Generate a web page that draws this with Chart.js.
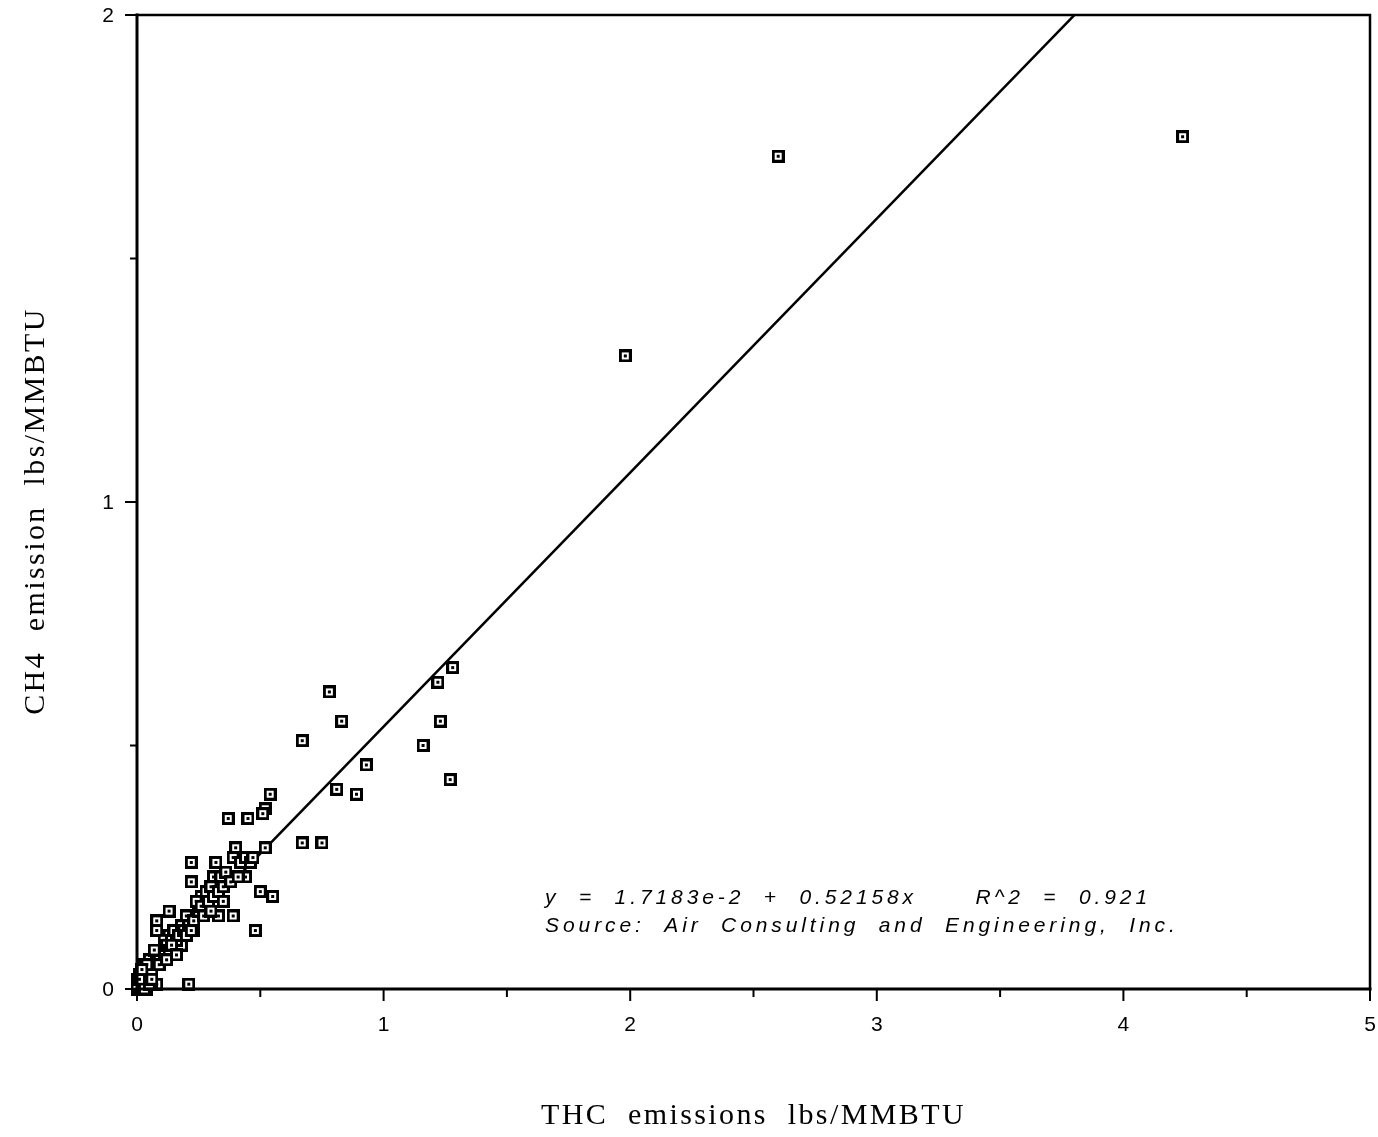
<!DOCTYPE html>
<html>
<head>
<meta charset="utf-8">
<script src="https://cdn.jsdelivr.net/npm/chart.js@4.4.1/dist/chart.umd.min.js"></script>
<style>
  html, body { margin: 0; padding: 0; background: #fff; }
  #wrap { width: 1378px; height: 1137px; }
</style>
</head>
<body>
<div id="wrap"><canvas id="scatter"></canvas></div>
<script>
// THC (x) vs CH4 (y) emissions, lbs/MMBTU
let thcValues = [
  4.24, 2.60, 1.98, 1.28, 1.22, 1.23, 1.16, 1.27,
  0.78, 0.83, 0.67, 0.93, 0.81, 0.89, 0.54, 0.52, 0.51, 0.45, 0.37,
  0.52, 0.67, 0.75, 0.22, 0.22, 0.32, 0.40, 0.39, 0.44, 0.50, 0.55,
  0.48, 0.27, 0.33, 0.39, 0.13, 0.08, 0.08, 0.23, 0.18, 0.08, 0.21,
  0.31, 0.26, 0.24, 0.13,
  0.00, 0.01, 0.02, 0.02, 0.03, 0.03, 0.04, 0.05, 0.05, 0.06, 0.07,
  0.08, 0.09, 0.10, 0.11, 0.11, 0.12, 0.13, 0.14, 0.15, 0.16, 0.17,
  0.18, 0.19, 0.20, 0.21, 0.23, 0.24, 0.25, 0.26, 0.28, 0.29, 0.30,
  0.31, 0.33, 0.34, 0.35, 0.36, 0.38, 0.42, 0.44, 0.46, 0.47, 0.04,
  0.06, 0.01, 0.03, 0.00, 0.01, 0.02, 0.00, 0.04, 0.07, 0.09, 0.12,
  0.14, 0.16, 0.20, 0.22, 0.27, 0.30, 0.35, 0.41, 0.01, 0.03, 0.05,
  0.02, 0.06
];
let ch4Values = [
  1.75, 1.71, 1.30, 0.66, 0.63, 0.55, 0.50, 0.43,
  0.61, 0.55, 0.51, 0.46, 0.41, 0.40, 0.40, 0.37, 0.36, 0.35, 0.35,
  0.29, 0.30, 0.30, 0.26, 0.22, 0.26, 0.29, 0.27, 0.23, 0.20, 0.19,
  0.12, 0.19, 0.15, 0.15, 0.16, 0.14, 0.12, 0.12, 0.09, 0.01, 0.01,
  0.23, 0.19, 0.15, 0.11,
  0.00, 0.01, 0.00, 0.02, 0.01, 0.03, 0.02, 0.04, 0.06, 0.03, 0.05,
  0.07, 0.06, 0.08, 0.07, 0.10, 0.09, 0.08, 0.10, 0.12, 0.10, 0.11,
  0.13, 0.12, 0.15, 0.13, 0.14, 0.18, 0.16, 0.17, 0.20, 0.18, 0.21,
  0.19, 0.20, 0.23, 0.21, 0.24, 0.22, 0.26, 0.27, 0.26, 0.27, 0.00,
  0.01, 0.03, 0.05, 0.02, 0.00, 0.04, 0.01, 0.05, 0.08, 0.05, 0.06,
  0.09, 0.07, 0.11, 0.12, 0.15, 0.16, 0.18, 0.23, 0.02, 0.00, 0.01,
  0.04, 0.02
];

// least squares fit printed on the chart
let fitIntercept = 1.7183e-2;
let fitSlope = 0.52158;
let fitR2 = 0.921;

let xTicks = [0, 1, 2, 3, 4, 5];
let yTicks = [0, 1, 2];
let xTitle = 'THC  emissions  lbs/MMBTU';
let yTitle = 'CH4  emission  lbs/MMBTU';
let annotationLines = [
  "y  =  1.7183e-2  +  0.52158x      R^2  =  " + fitR2,
  "Source:  Air  Consulting  and  Engineering,  Inc."
];

function boxMarker() {
  const c = document.createElement('canvas');
  c.width = 13; c.height = 13;
  const g = c.getContext('2d');
  g.fillStyle = '#000';
  g.fillRect(0, 0, 13, 13);
  g.fillStyle = '#fff';
  g.fillRect(3, 3, 7, 7);
  g.fillStyle = '#000';
  g.fillRect(5, 5, 3, 3);
  return c;
}

const framePlugin = {
  id: 'frame',
  afterDatasetsDraw(chart) {
    const {ctx, chartArea: a, scales: {x, y}} = chart;
    ctx.save();
    ctx.strokeStyle = '#000';
    ctx.lineCap = 'square';
    ctx.lineWidth = 2.5;
    ctx.beginPath();
    ctx.moveTo(a.left, a.top); ctx.lineTo(a.right, a.top); ctx.lineTo(a.right, a.bottom);
    ctx.stroke();
    ctx.lineWidth = 3;
    ctx.beginPath();
    ctx.moveTo(a.left, a.top); ctx.lineTo(a.left, a.bottom); ctx.lineTo(a.right, a.bottom);
    ctx.stroke();
    // tick marks, major at integers and minor at halves
    ctx.lineWidth = 2;
    for (let v = 0; v <= 5; v += 0.5) {
      const px = x.getPixelForValue(v);
      const len = Number.isInteger(v) ? 11 : 7;
      ctx.beginPath(); ctx.moveTo(px, a.bottom); ctx.lineTo(px, a.bottom + len); ctx.stroke();
    }
    for (let v = 0; v <= 2; v += 0.5) {
      const py = y.getPixelForValue(v);
      const len = Number.isInteger(v) ? 11 : 6;
      ctx.beginPath(); ctx.moveTo(a.left, py); ctx.lineTo(a.left - len, py); ctx.stroke();
    }
    ctx.fillStyle = '#000';
    // tick labels
    ctx.font = '21px "Liberation Sans", Arial, sans-serif';
    ctx.textAlign = 'center';
    ctx.textBaseline = 'middle';
    xTicks.forEach(v => ctx.fillText(String(v), x.getPixelForValue(v), a.bottom + 36));
    ctx.textAlign = 'right';
    yTicks.forEach(v => ctx.fillText(String(v), a.left - 23, y.getPixelForValue(v) + 1));
    // axis titles
    ctx.font = '30px "Liberation Serif", "Times New Roman", serif';
    ctx.letterSpacing = '2.4px';
    ctx.textAlign = 'center';
    ctx.fillText(xTitle, (a.left + a.right) / 2, 1116);
    ctx.save();
    ctx.translate(36, 511);
    ctx.rotate(-Math.PI / 2);
    ctx.fillText(yTitle, 0, 0);
    ctx.restore();
    // equation and source note
    ctx.font = 'italic 21px "Liberation Sans", Arial, sans-serif';
    ctx.letterSpacing = '3.9px';
    ctx.textAlign = 'left';
    ctx.textBaseline = 'alphabetic';
    const tx = x.getPixelForValue(1.655);
    ctx.fillText(annotationLines[0], tx, y.getPixelForValue(0.174));
    ctx.fillText(annotationLines[1], tx, y.getPixelForValue(0.117));
    ctx.restore();
  }
};

let fitX = [0, 5];
let fitY = fitX.map(v => fitIntercept + fitSlope * v);

new Chart(document.getElementById('scatter'), {
  type: 'scatter',
  data: {
    datasets: [
      {
        type: 'line',
        data: fitX.map((v, i) => ({x: v, y: fitY[i]})),
        borderColor: '#000',
        borderWidth: 2.5,
        pointRadius: 0,
        fill: false,
        order: 2
      },
      {
        data: thcValues.map((v, i) => ({x: v, y: ch4Values[i]})),
        pointStyle: boxMarker(),
        pointRadius: 6,
        clip: false,
        order: 1
      }
    ]
  },
  options: {
    responsive: true,
    maintainAspectRatio: false,
    animation: false,
    events: [],
    layout: {padding: {top: 15, right: 8, left: 0, bottom: 0}},
    plugins: {legend: {display: false}, tooltip: {enabled: false}},
    scales: {
      x: {
        type: 'linear', min: 0, max: 5,
        afterFit: s => { s.height = 148; },
        afterBuildTicks: s => { s.ticks = xTicks.map(v => ({value: v})); },
        grid: {display: false, drawTicks: false},
        border: {display: false},
        ticks: {display: false}
      },
      y: {
        type: 'linear', min: 0, max: 2,
        afterFit: s => { s.width = 137; },
        afterBuildTicks: s => { s.ticks = yTicks.map(v => ({value: v})); },
        grid: {display: false, drawTicks: false},
        border: {display: false},
        ticks: {display: false}
      }
    }
  },
  plugins: [framePlugin]
});
</script>
</body>
</html>
